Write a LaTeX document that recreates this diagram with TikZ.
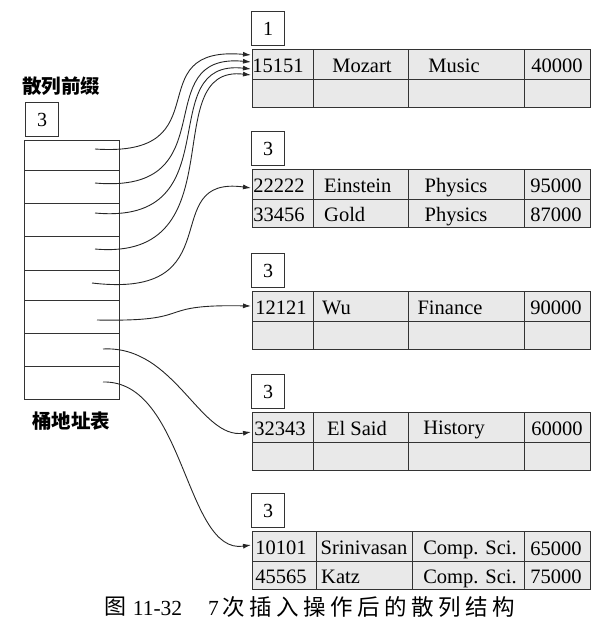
\documentclass[tikz,border=0pt]{standalone}
\usepackage{fontspec}
\setmainfont{Liberation Serif}
\newfontfamily\cjk{Noto Sans CJK SC}
\newfontfamily\cjkcap[LetterSpace=20]{Noto Sans CJK SC}
\usetikzlibrary{arrows.meta}

% one bucket: depth box above a two-row, four-column record table
% #1 name, #2 table top, #3 first split, #4 second split, #5 local depth
\newcommand\drawbucket[5]{%
  \node[depthbox, anchor=north west] (#1d) at (251,#2-38) {#5};
  \path[cell] (252,#2) rectangle (590,#2+58);
  \draw[rule] (252,#2+30) -- (590,#2+30)
              (#3,#2) -- (#3,#2+58)
              (#4,#2) -- (#4,#2+58)
              (524,#2) -- (524,#2+58);
}

\begin{document}
\begin{tikzpicture}[x=1pt,y=-1pt,
  rule/.style={draw=black!80, line width=1pt},
  cell/.style={rule, fill=gray!17},
  depthbox/.style={rule, minimum width=33pt, minimum height=34pt, inner sep=0pt,
                   font=\fontsize{20}{20}\selectfont},
  txt/.style={font=\fontsize{20.5}{21}\selectfont, inner sep=0pt, anchor=base},
  ltxt/.style={txt, anchor=base west},
  ptr/.style={draw=black!85, line width=0.9pt, -{Latex[length=8pt,width=5pt]}},
  cjklabel/.style={font=\cjk\bfseries\fontsize{19.5}{19.5}\selectfont, inner sep=0pt},
]
\useasboundingbox (0,0) rectangle (606,637);

% global depth and bucket address table
\node[cjklabel] (prefixlbl) at (61,86) {散列前缀};
\node[depthbox, anchor=north west] (gdepth) at (25,102) {3};
\draw[rule] (24,140) rectangle (119,399);
\foreach \yy in {170,203,236,270,300,333,366}
  \draw[rule] (24,\yy) -- (119,\yy);
\node[cjklabel] (tablelbl) at (71,421) {桶地址表};

% pointer origins inside the table rows
\coordinate (s1) at (95,149);
\coordinate (s2) at (95,183);
\coordinate (s3) at (95,213);
\coordinate (s4) at (95,249);
\coordinate (s5) at (92,283);
\coordinate (s6) at (97,320);
\coordinate (s7) at (103,349);
\coordinate (s8) at (103,382);

% buckets
\drawbucket{b1}{49}{313}{408}{1}
\drawbucket{b2}{169}{313}{408}{3}
\drawbucket{b3}{291}{313}{408}{3}
\drawbucket{b4}{412}{313}{408}{3}
\drawbucket{b5}{531}{316}{412}{3}

% records
\node[txt]  (b1a1) at (278,72) {15151};
\node[txt]  (b1b1) at (362,72) {Mozart};
\node[txt]  (b1c1) at (454,72) {Music};
\node[txt]  (b1e1) at (557,72) {40000};

\node[txt]  (b2a1) at (279,192) {22222};
\node[ltxt] (b2b1) at (324,192) {Einstein};
\node[txt]  (b2c1) at (456,192) {Physics};
\node[txt]  (b2e1) at (556,192) {95000};
\node[txt]  (b2a2) at (279,221) {33456};
\node[ltxt] (b2b2) at (324,221) {Gold};
\node[txt]  (b2c2) at (456,221) {Physics};
\node[txt]  (b2e2) at (556,221) {87000};

\node[txt]  (b3a1) at (281,314) {12121};
\node[ltxt] (b3b1) at (322,314) {Wu};
\node[txt]  (b3c1) at (450,314) {Finance};
\node[txt]  (b3e1) at (556,314) {90000};

\node[txt]  (b4a1) at (280,435) {32343};
\node[txt]  (b4b1) at (357,435) {El Said};
\node[txt]  (b4c1) at (454,434) {History};
\node[txt]  (b4e1) at (557,435) {60000};

\node[txt]  (b5a1) at (281,554) {10101};
\node[txt]  (b5b1) at (364,554) {Srinivasan};
\node[txt]  (b5c1) at (470,554) {Comp. Sci.};
\node[txt]  (b5e1) at (556,555) {65000};
\node[txt]  (b5a2) at (281,583) {45565};
\node[ltxt] (b5b2) at (321,583) {Katz};
\node[txt]  (b5c2) at (470,583) {Comp. Sci.};
\node[txt]  (b5e2) at (556,583) {75000};

% pointer targets on the buckets' left edges
\coordinate (e1) at (251,55);
\coordinate (e2) at (251,62);
\coordinate (e3) at (251,69);
\coordinate (e4) at (251,75);
\coordinate (e5) at (251,188);
\coordinate (e6) at (251,306);
\coordinate (e7) at (251,432);
\coordinate (e8) at (251,545);

% pointers
\draw[ptr] (s1) .. controls (225,158) and (135,45) .. (e1);
\draw[ptr] (s2) .. controls (230,195) and (145,52) .. (e2);
\draw[ptr] (s3) .. controls (235,226) and (150,58) .. (e3);
\draw[ptr] (s4) .. controls (240,262) and (155,64) .. (e4);
\draw[ptr] (s5) .. controls (235,300) and (155,175) .. (e5);
\draw[ptr] (s6) .. controls (200,322) and (150,304) .. (e6);
\draw[ptr] (s7) .. controls (175,345) and (200,440) .. (e7);
\draw[ptr] (s8) .. controls (185,380) and (185,555) .. (e8);

% caption
\node[font=\cjk\fontsize{22}{22}\selectfont, inner sep=0pt] (capfig) at (115,607) {图};
\node[font=\fontsize{21.5}{22}\selectfont, inner sep=0pt] (capnum) at (157.5,608) {11-32};
\node[font=\fontsize{21.5}{22}\selectfont, inner sep=0pt] (capcnt) at (213.5,608) {7};
\node[font=\cjkcap\fontsize{22.5}{22.5}\selectfont, inner sep=0pt, anchor=west] (captxt) at (222,607) {次插入操作后的散列结构};
\end{tikzpicture}
\end{document}
